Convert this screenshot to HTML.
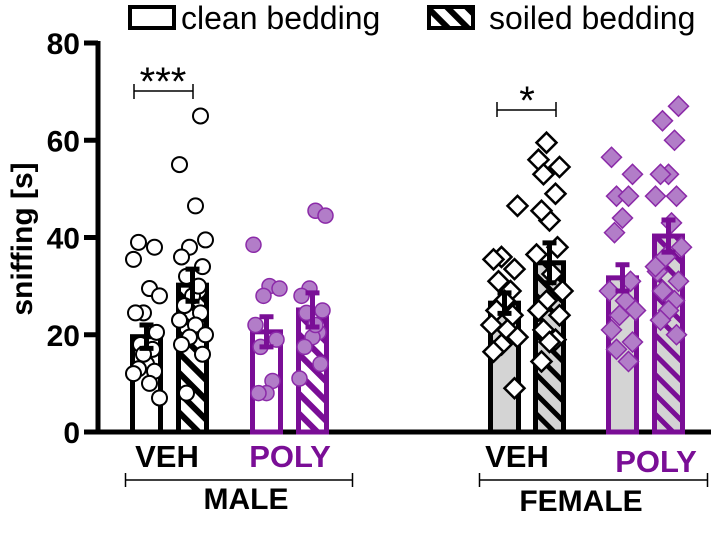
<!DOCTYPE html>
<html><head><meta charset="utf-8"><style>
body{margin:0;background:#fff}
text{font-family:"Liberation Sans",Arial,sans-serif}
</style></head><body>
<svg id="chart" width="711" height="541" viewBox="0 0 711 541" xmlns="http://www.w3.org/2000/svg">
<defs>
<pattern id="hatchK" patternUnits="userSpaceOnUse" width="14" height="14" patternTransform="rotate(-45)">
<rect width="14" height="14" fill="#fff"/><rect x="0" width="6" height="14" fill="#000"/></pattern>
<pattern id="hatchKG" patternUnits="userSpaceOnUse" width="14" height="14" patternTransform="rotate(-45)">
<rect width="14" height="14" fill="#d4d4d4"/><rect x="0" width="5" height="14" fill="#000"/></pattern>
<pattern id="hatchP" patternUnits="userSpaceOnUse" width="14" height="14" patternTransform="rotate(-45)">
<rect width="14" height="14" fill="#fff"/><rect x="0" width="6" height="14" fill="#7a0e96"/></pattern>
<pattern id="hatchPG" patternUnits="userSpaceOnUse" width="14" height="14" patternTransform="rotate(-45)">
<rect width="14" height="14" fill="#d4d4d4"/><rect x="0" width="5" height="14" fill="#7a0e96"/></pattern>
</defs>
<g id="legend">
<rect x="130" y="7" width="44" height="21" fill="#fff" stroke="#000" stroke-width="4"/>
<text x="181" y="29" font-size="32">clean bedding</text>
<rect x="429" y="7" width="44" height="21" fill="url(#hatchK)" stroke="#000" stroke-width="4"/>
<text x="489" y="29" font-size="32">soiled bedding</text>
</g>
<g id="axes"></g>
<g id="bars"></g>
<g id="points"></g>
<g id="errs"></g>
<g id="annot">
<text transform="translate(32,239) rotate(-90)" text-anchor="middle" font-size="30" font-weight="bold">sniffing [s]</text>
<text x="167" y="467" text-anchor="middle" font-size="31" font-weight="bold">VEH</text>
<text x="290" y="467" text-anchor="middle" font-size="31" font-weight="bold" fill="#7a0e96">POLY</text>
<text x="517" y="467" text-anchor="middle" font-size="31" font-weight="bold">VEH</text>
<text x="656" y="472" text-anchor="middle" font-size="31" font-weight="bold" fill="#7a0e96">POLY</text>
<path d="M125.5 480H352.5M125.5 473V487M352.5 473V487" stroke="#000" stroke-width="1.5" fill="none"/>
<text x="246" y="509" text-anchor="middle" font-size="30" font-weight="bold">MALE</text>
<path d="M479.5 480H707.5M479.5 473V487M707.5 473V487" stroke="#000" stroke-width="1.5" fill="none"/>
<text x="581" y="511" text-anchor="middle" font-size="30" font-weight="bold">FEMALE</text>
<path d="M134 91H193M134 84V99M193 84V99" stroke="#000" stroke-width="1.5" fill="none"/>
<text x="163" y="95" text-anchor="middle" font-size="40">***</text>
<path d="M497 110H556M497 102V117M556 102V117" stroke="#000" stroke-width="1.5" fill="none"/>
<text x="527" y="114" text-anchor="middle" font-size="40">*</text>
</g>
</svg>
<script>
const yTicks=[0,20,40,60,80];
const groups=["male-veh-clean","male-veh-soiled","male-poly-clean","male-poly-soiled","female-veh-clean","female-veh-soiled","female-poly-clean","female-poly-soiled"];
const means=[19.6,30.2,20.6,25.1,26.5,34.8,31.7,40.3];
const sems=[2.4,3.3,3.1,3.5,2.1,4.1,2.7,3.3];
const pts0=[39,38,35.5,29.5,28,24.5,24.5,20.5,18,17,14,13,12.5,12,10,7,16];
const pts1=[65,55,46.5,39.5,38,36,34,32,29,28,26,24.5,23,22,20,19.5,18,16,8,30];
const pts2=[38.5,30,29.5,28,22,19,17.5,10.5,8,8];
const pts3=[45.5,44.5,29.5,28,25,24.5,20.5,19.5,17.5,14,11,22];
const pts4=[46.5,36,35.5,33.5,31,29,27,25,24,22,21,19.5,18,16.5,9];
const pts5=[59.5,56,54.5,53,49,43.5,45.5,38,36.5,32.5,29,27,25,24,21,19,18.5,14.5];
const pts6=[56.5,53,48.5,48.5,44,41,31,29,27,25,24,21,18.5,17,14.5];
const pts7=[67,64,60,53,53,48.5,48.5,43,38,36,33,31,29,27,25,23,20,34];
const allPts=[pts0,pts1,pts2,pts3,pts4,pts5,pts6,pts7];
const barLeft=[130,176,250,296,488,533,606,652];
const barW=33;
const y0=432, y80=43;
const y=v=>y0-(y0-y80)*v/80;
const NS="http://www.w3.org/2000/svg";
function mk(tag,attrs,parent){const e=document.createElementNS(NS,tag);for(const k in attrs)e.setAttribute(k,attrs[k]);parent.appendChild(e);return e;}
const axes=document.getElementById('axes');
const yl=mk('line',{x1:98,x2:98,y1:y80-2,y2:y0+2,stroke:'#000','stroke-width':5},axes);


const xl=mk('line',{x1:96,x2:711,y1:y0,y2:y0,stroke:'#000','stroke-width':5},axes);


yTicks.forEach(t=>{
 const tk=mk('line',{x1:84,x2:98,y1:y(t),y2:y(t),stroke:'#000','stroke-width':5},axes);
 
 
 const tl=mk('text',{x:80,y:y(t)+11,'text-anchor':'end','font-size':30,'font-weight':'bold'},axes);
 tl.textContent=t;
 
 
});
const bars=document.getElementById('bars'),pg=document.getElementById('points'),eg=document.getElementById('errs');
const PUR='#7a0e96';
const jit=[-8,8,-13,3,13,-3,-11,10,-6,6,0];
groups.forEach((g,i)=>{
 const female=i>=4, poly=(i%4)>=2, soiled=i%2===1;
 const col=poly?PUR:'#000';
 let fill=female?'#d4d4d4':'#fff';
 if(soiled) fill=poly?(female?'url(#hatchPG)':'url(#hatchP)'):(female?'url(#hatchKG)':'url(#hatchK)');
 const x=barLeft[i];
 const b=mk('rect',{x:x+2.5,y:y(means[i]),width:barW-5,height:y0-y(means[i]),fill:fill,stroke:col,'stroke-width':5},bars);
 
 
 const cx=x+barW/2;
 allPts[i].forEach((v,j)=>{
  const off=jit[(j+i)%jit.length];
  const px=cx+off, py=y(v);
  let p;
  if(female){
   const s=10;
   p=mk('polygon',{points:`${px},${py-s} ${px+s},${py} ${px},${py+s} ${px-s},${py}`,fill:poly?'#b27dc8':'#fff',stroke:poly?'#8b2aa8':'#000','stroke-width':poly?1.5:2.5},pg);
  } else {
   p=mk('circle',{cx:px,cy:py,r:7.5,fill:poly?'#b27dc8':'#fff',stroke:poly?'#8b2aa8':'#000','stroke-width':poly?1.5:2},pg);
  }
  
  
 });
 const top=y(means[i]+sems[i]), bot=y(means[i]-sems[i]);
 const e=mk('path',{d:`M${cx} ${top}V${bot}M${cx-7} ${top}H${cx+7}M${cx-7} ${bot}H${cx+7}`,stroke:col,'stroke-width':5,fill:'none'},eg);
 
 
});
</script>
</body></html>
